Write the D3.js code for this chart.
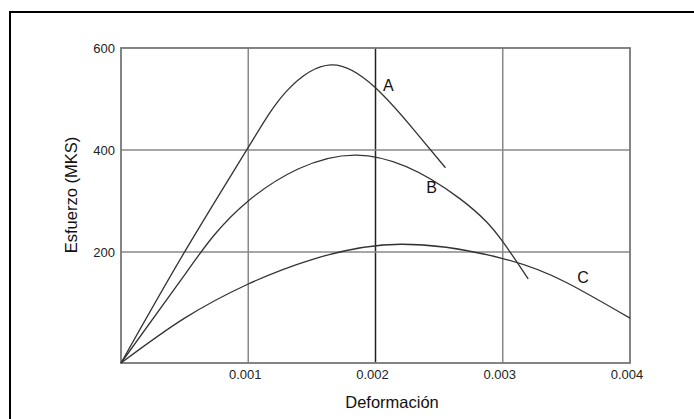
<!DOCTYPE html>
<html><head><meta charset="utf-8">
<script src="https://cdn.jsdelivr.net/npm/d3@7"></script>
<style>body{margin:0;background:#fff}svg{display:block}</style>
</head><body>
<script>
const xTicks = [0.001, 0.002, 0.003, 0.004];
const yTicks = [200, 400, 600];
const seriesNames = ["A", "B", "C"];
const curveA = [[0,-18],[0.0005,200],[0.001,405],[0.0013,515],[0.00165,567],[0.002,522],[0.0023,440],[0.00255,365]];
const curveB = [[0,-18],[0.0005,155],[0.001,300],[0.00185,390],[0.00266,305],[0.003,220],[0.0032,147]];
const curveC = [[0,-18],[0.0005,70],[0.001,137],[0.0015,185],[0.0022,215],[0.003,187],[0.0035,140],[0.004,70]];
const labelPos = [[0.0021,516],[0.00244,316],[0.00363,139]];

const W = 694, H = 419;
const svg = d3.select("body").append("svg").attr("width", W).attr("height", H);
const x = d3.scaleLinear().domain([0, 0.004]).range([121, 630]);
const y = d3.scaleLinear().domain([-18, 600]).range([363, 48]);

// outer frame
svg.append("rect").attr("x", 10).attr("y", 12).attr("width", 720).attr("height", 440)
  .attr("fill", "none").attr("stroke", "#000").attr("stroke-width", 2);

// grid
svg.append("g").selectAll("line").data(xTicks.slice(0, 3)).join("line")
  .attr("x1", d => x(d)).attr("x2", d => x(d)).attr("y1", y(600)).attr("y2", y(-18))
  .attr("stroke", (d, i) => i === 1 ? "#222" : "#888").attr("stroke-width", 1.5);
svg.append("g").selectAll("line").data(yTicks.slice(0, 2)).join("line")
  .attr("x1", x(0)).attr("x2", x(0.004)).attr("y1", d => y(d)).attr("y2", d => y(d))
  .attr("stroke", "#888").attr("stroke-width", 1.5);

// plot frame
svg.append("rect").attr("x", x(0)).attr("y", y(600)).attr("width", x(0.004) - x(0)).attr("height", y(-18) - y(600))
  .attr("fill", "none").attr("stroke", "#777").attr("stroke-width", 1.8);

// axes labels
const font = "Liberation Sans, Arial, sans-serif";
svg.append("g").selectAll("text").data(xTicks).join("text")
  .attr("x", d => x(d) - 3).attr("y", 379).attr("text-anchor", "middle")
  .attr("font-family", font).attr("font-size", 13).attr("fill", "#222").text(d => d3.format(".3f")(d));
svg.append("g").selectAll("text").data(yTicks).join("text")
  .attr("x", 115).attr("y", d => y(d) + 5).attr("text-anchor", "end")
  .attr("font-family", font).attr("font-size", 13).attr("fill", "#222").text(d => d);

svg.append("text").attr("x", 392).attr("y", 408).attr("text-anchor", "middle")
  .attr("font-family", font).attr("font-size", 16.5).attr("fill", "#111").text("Deformación");
svg.append("text").attr("transform", "translate(77,195) rotate(-90)").attr("text-anchor", "middle")
  .attr("font-family", font).attr("font-size", 16.5).attr("fill", "#111").text("Esfuerzo (MKS)");

// curves
const line = d3.line().x(d => x(d[0])).y(d => y(d[1])).curve(d3.curveNatural);
const curves = [curveA, curveB, curveC];
svg.append("g").selectAll("path").data(curves).join("path")
  .attr("d", line).attr("fill", "none").attr("stroke", "#333").attr("stroke-width", 1.3);

svg.append("g").selectAll("text").data(seriesNames).join("text")
  .attr("x", (d, i) => x(labelPos[i][0])).attr("y", (d, i) => y(labelPos[i][1]))
  .attr("text-anchor", "middle").attr("font-family", font).attr("font-size", 16).attr("fill", "#111").text(d => d);
</script>
</body></html>
